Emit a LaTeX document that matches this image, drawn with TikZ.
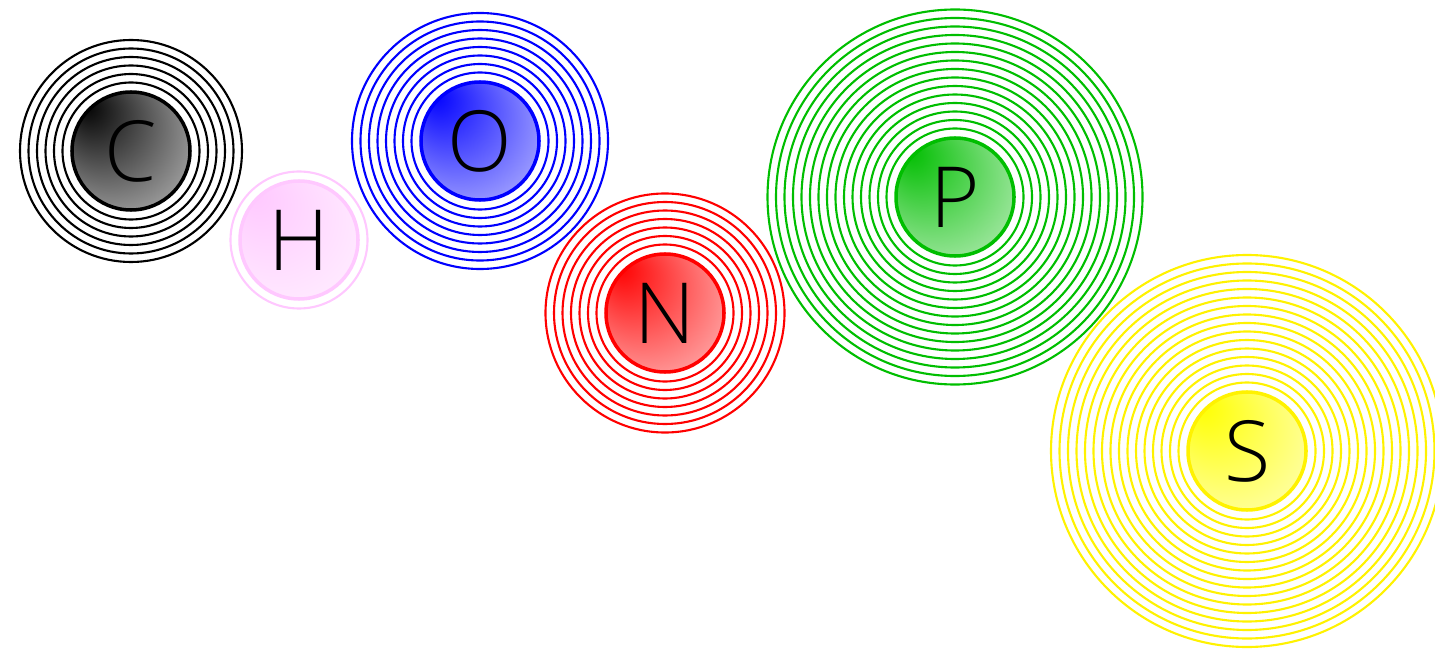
\documentclass[tikz,border=0pt]{standalone}
\usepackage{fontspec}
\newfontfamily\atomfont{Open Sans Light}
\definecolor{hpink}{RGB}{255,200,255}
\definecolor{pgreen}{RGB}{0,190,0}
\colorlet{atomcol}{black}
\pgfdeclareradialshading[atomcol]{atomshade}{\pgfpoint{-20bp}{20bp}}%
  {color(0bp)=(atomcol); color(50bp)=(atomcol!12)}
\tikzset{atom color/.code={\colorlet{atomcol}{#1}}}

\begin{document}
\begin{tikzpicture}[
  x=0.2mm, y=-0.2mm,
  shell/.style={draw=#1, line width=1.2pt},
  nucleus/.style={circle, draw=#1, atom color=#1, shading=atomshade, line width=2pt,
    minimum size=23.6mm, inner sep=0pt, font=\atomfont\fontsize{48}{58}\selectfont},
]
\useasboundingbox (0,0) rectangle (1435,652);
% ---- nuclei ----
\node[nucleus=black]  (C) at (131,151)  {C};
\node[nucleus=hpink]  (H) at (299,240)  {H};
\node[nucleus=blue]   (O) at (480,141)  {O};
\node[nucleus=red]    (N) at (665,313)  {N};
\node[nucleus=pgreen] (P) at (955,197)  {P};
\node[nucleus=yellow] (S) at (1247,451) {S};

% ---- electron shells, one ring per electron ----
\foreach \atom/\col/\n in {C/black/6, H/hpink/1, O/blue/8, N/red/7, P/pgreen/15, S/yellow/16}
  \foreach \k in {1,...,\n}
    \draw[shell=\col] (\atom.center) circle[radius=12mm+1.7mm*\k];
\end{tikzpicture}
\end{document}
